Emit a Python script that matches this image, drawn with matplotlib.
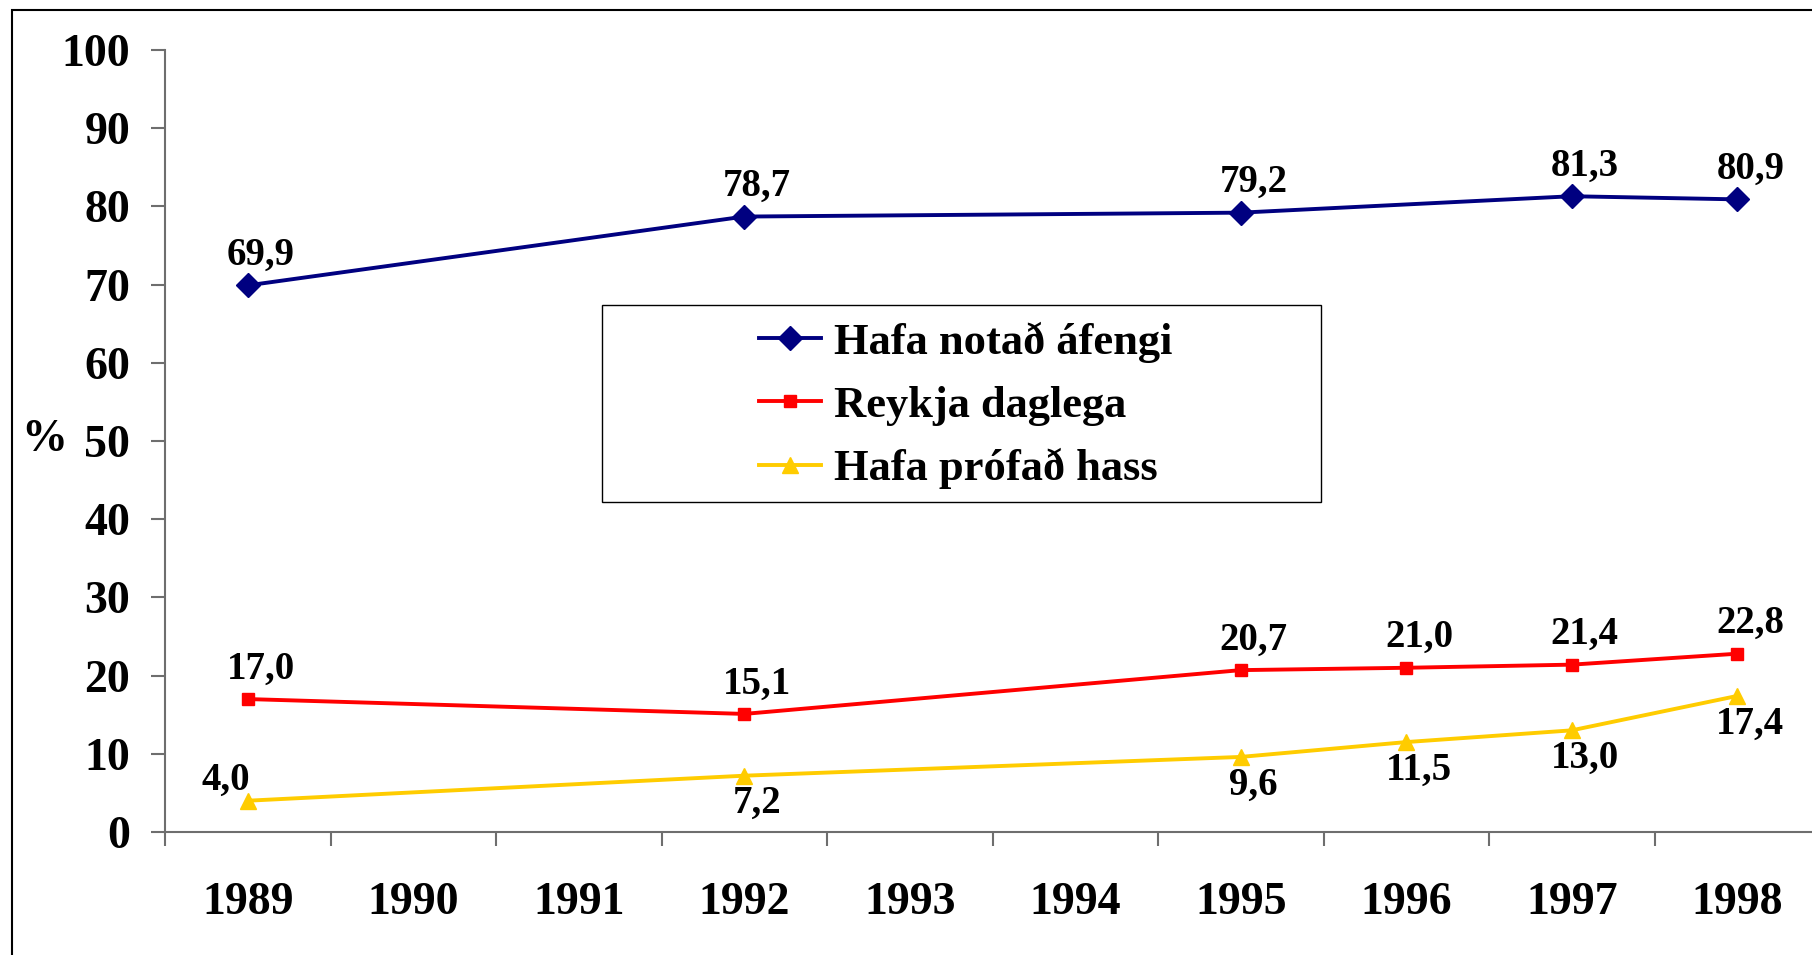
import matplotlib
matplotlib.use("Agg")
import matplotlib.pyplot as plt
from matplotlib.patches import Rectangle
import numpy as np

years = ["1989", "1990", "1991", "1992", "1993", "1994", "1995", "1996", "1997", "1998"]
alcohol_years = ["1989", "1992", "1995", "1997", "1998"]
alcohol = [69.9, 78.7, 79.2, 81.3, 80.9]
smoke_years = ["1989", "1992", "1995", "1996", "1997", "1998"]
smoke = [17.0, 15.1, 20.7, 21.0, 21.4, 22.8]
hash_years = ["1989", "1992", "1995", "1996", "1997", "1998"]
hashish = [4.0, 7.2, 9.6, 11.5, 13.0, 17.4]
series_names = ["Hafa notað áfengi", "Reykja daglega", "Hafa prófað hass"]
yticks = [0, 10, 20, 30, 40, 50, 60, 70, 80, 90, 100]

FONT = "Liberation Serif"
W, H = 1812, 955
fig = plt.figure(figsize=(W / 100, H / 100), dpi=100)
fig.patch.set_facecolor("white")

# outer chart frame (extends past right / bottom edge)
fig.add_artist(Rectangle((12 / W, -0.05), 1.1, 1 - 10 / H + 0.05, transform=fig.transFigure,
                         fill=False, edgecolor="black", linewidth=1.5))

left, right, top, bottom = 165, 1820, 50, 832
ax = fig.add_axes([left / W, 1 - bottom / H, (right - left) / W, (bottom - top) / H])
ax.set_xlim(0, len(years))
ax.set_ylim(0, 100)
for s in ["top", "right"]:
    ax.spines[s].set_visible(False)
for s in ["left", "bottom"]:
    ax.spines[s].set_color("#6e6e6e")
    ax.spines[s].set_linewidth(1.5)

pos = {y: i + 0.5 for i, y in enumerate(years)}

ax.set_yticks(yticks)
ax.set_yticklabels([str(v) for v in yticks], fontfamily=FONT, fontweight="bold", fontsize=33)
ax.tick_params(axis="y", direction="out", length=10, width=1.5, color="#6e6e6e", pad=15)

ax.set_xticks(np.arange(0, len(years) + 1))
ax.set_xticklabels([])
ax.tick_params(axis="x", which="major", direction="out", length=10, width=1.5, color="#6e6e6e")
ax.set_xticks([pos[y] for y in years], minor=True)
ax.set_xticklabels(years, minor=True, fontfamily=FONT, fontweight="bold", fontsize=33)
ax.tick_params(axis="x", which="minor", length=0, pad=36)

txt = dict(fontfamily=FONT, fontweight="bold", fontsize=28, ha="center", va="center",
           textcoords="offset pixels", annotation_clip=False)

def draw(yrs, vals, color, marker, ms, label, offsets):
    xs = [pos[y] for y in yrs]
    ax.plot(xs, vals, color=color, linewidth=2.8, marker=marker, markersize=ms,
            markeredgecolor=color, markerfacecolor=color, label=label, clip_on=False, zorder=3)
    for x, v, off in zip(xs, vals, offsets):
        ax.annotate(f"{v:.1f}".replace(".", ","), (x, v), xytext=off, **txt)

draw(alcohol_years, alcohol, "#000080", "D", 12, series_names[0], [(13, 30)] * len(alcohol))
draw(smoke_years, smoke, "#FF0000", "s", 8.5, series_names[1], [(13, 30)] * len(smoke))
draw(hash_years, hashish, "#FFCC00", "^", 11, series_names[2],
     [(-22, 20)] + [(13, -28)] * (len(hashish) - 1))

fig.text(44 / W, 1 - 440 / H, "%", fontfamily=FONT, fontweight="bold", fontsize=33,
         ha="center", va="center")

# legend box
bx0, bx1, by0, by1 = 602, 1321, 305, 502
fig.add_artist(Rectangle((bx0 / W, 1 - by1 / H), (bx1 - bx0) / W, (by1 - by0) / H,
                         transform=fig.transFigure, fill=True, facecolor="white",
                         edgecolor="black", linewidth=1.0, zorder=4))
leg = fig.legend(*ax.get_legend_handles_labels(), loc="center",
                 bbox_to_anchor=(((bx0 + bx1) / 2 + 4) / W, 1 - ((by0 + by1) / 2 + 2) / H),
                 prop=dict(family=FONT, weight="bold", size=32), frameon=False,
                 labelspacing=0.51, handlelength=1.4, handletextpad=0.3, borderpad=0)
leg.set_zorder(5)

fig.savefig("out.png", dpi=100, facecolor="white")
